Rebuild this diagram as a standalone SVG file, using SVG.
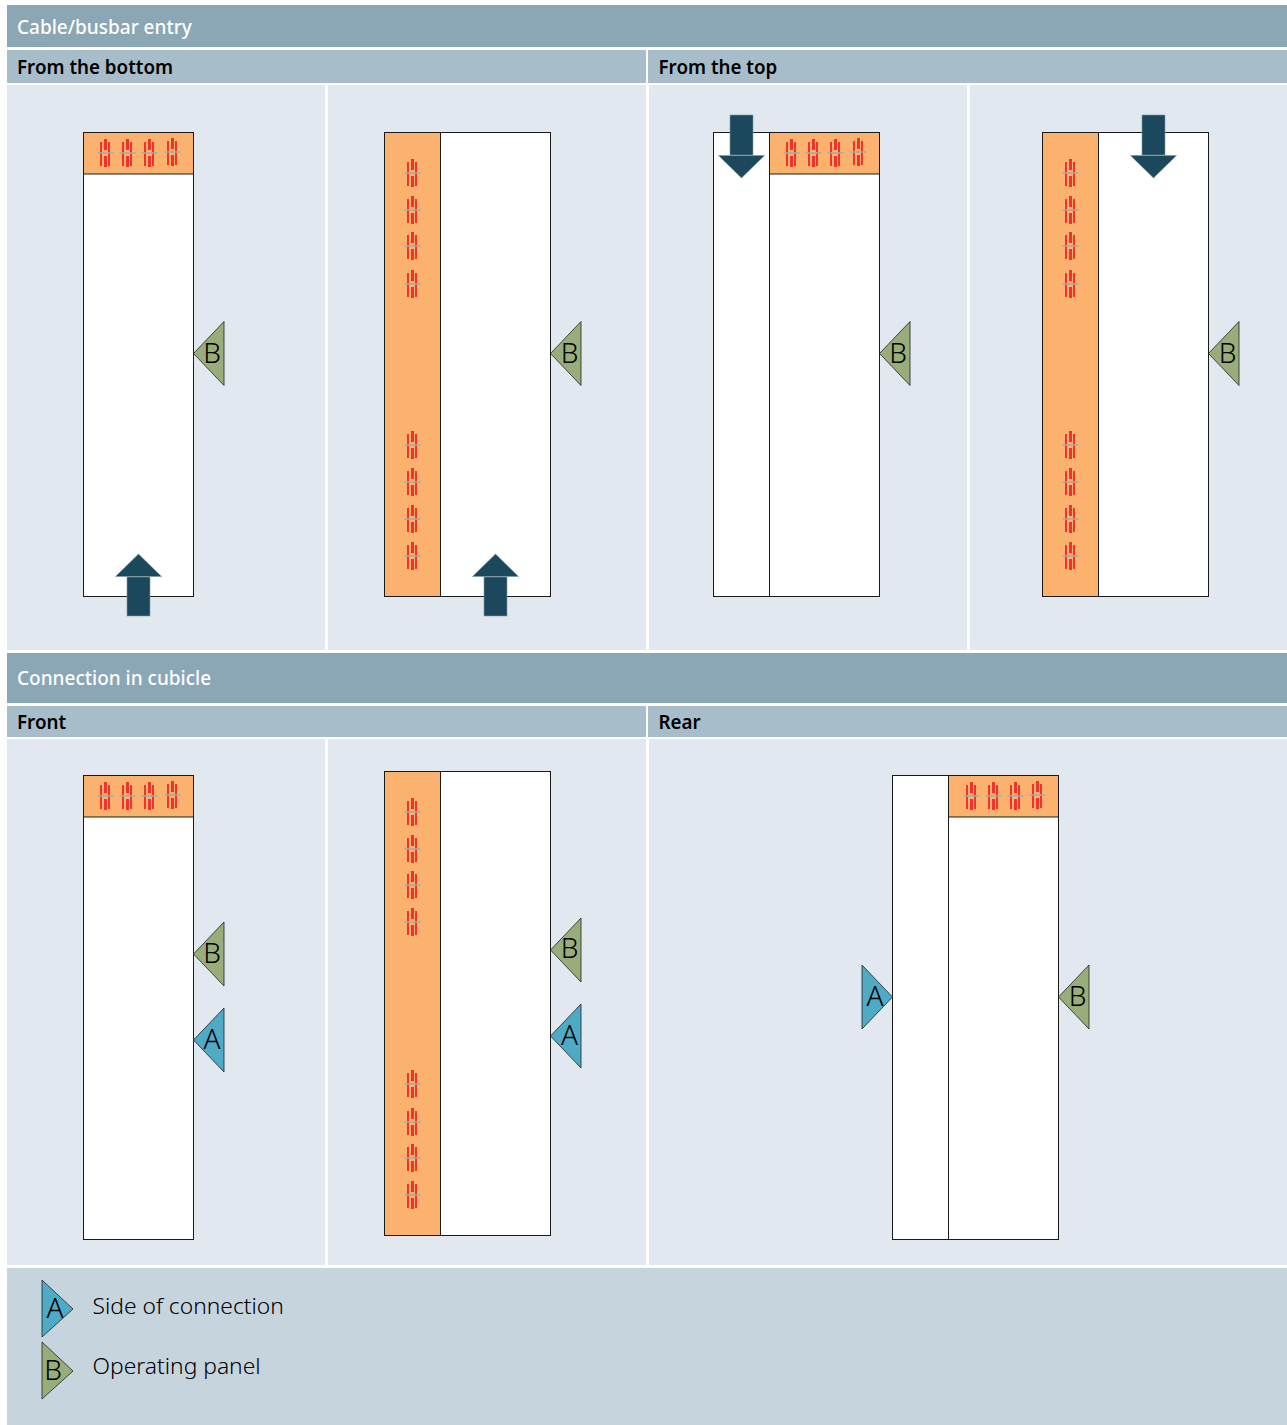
<svg xmlns="http://www.w3.org/2000/svg" width="1287" height="1425" viewBox="0 0 1287 1425">
<style>
text{font-family:"Noto Sans","Open Sans","Liberation Sans",sans-serif}
.h{fill:#8ba6b4}.s{fill:#a8bdca}.p{fill:#e1e8ef}.l{fill:#c6d4de}
.ht{fill:#fff;font-size:19px;font-weight:500}
.st{fill:#000;font-size:18.8px;font-weight:600}
.lt{fill:#000;font-size:22.8px;font-weight:350}
.box{fill:#fff;stroke:#1a1a1a;stroke-width:1}
.or{fill:#fcb26f;stroke:#1a1a1a;stroke-width:1}
.tb{fill:#98ad7a;stroke:#222;stroke-width:.8}
.ta{fill:#4fabc5;stroke:#222;stroke-width:.8}
.tl{fill:#000;font-size:28px;font-weight:350;text-anchor:middle}
.ar{fill:#1b485c;stroke:#7f9aa6;stroke-width:.6}
.r{fill:#f0332c}.g{fill:#aaa9a4}
</style>
<defs>
<g id="bb">
<rect class="r" x="-5" y="-11" width="2" height="24"/>
<rect class="r" x="3" y="-11" width="2" height="24"/>
<rect class="r" x="-1" y="-14" width="3" height="11"/><rect class="r" x="-1" y="3" width="3" height="11"/>
<rect class="g" x="-7.5" y="-.8" width="16" height="1.6"/>
</g>
<polygon id="ltri" points="0,0 30.5,-32 30.5,32"/>
<polygon id="rtri" points="0,-29 31,0 0,28"/>
<g id="up"><rect x="-11.5" y="23" width="23" height="39"/><polygon points="0,0 23,22.5 -23,22.5"/></g>
<g id="dn"><rect x="-11.5" y="0" width="23" height="40"/><polygon points="0,63 23,40.5 -23,40.5"/></g>
</defs>
<rect width="1287" height="1425" fill="#fff"/>
<g id="header-entry"><rect class="h" x="7" y="5" width="1280" height="42"/><text class="ht" x="17" y="34">Cable/busbar entry</text></g>
<g id="sub-bottom"><rect class="s" x="7" y="50" width="639" height="33"/><text class="st" x="17" y="74">From the bottom</text></g>
<g id="sub-top"><rect class="s" x="648" y="50" width="639" height="33"/><text class="st" x="658.5" y="74">From the top</text></g>
<g id="panels-entry">
<rect class="p" x="7" y="85" width="318" height="565"/><rect class="p" x="328" y="85" width="318" height="565"/>
<rect class="p" x="649" y="85" width="318" height="565"/><rect class="p" x="970" y="85" width="317" height="565"/>
</g>
<g id="header-conn"><rect class="h" x="7" y="653" width="1280" height="50"/><text class="ht" x="17" y="685">Connection in cubicle</text></g>
<g id="sub-front"><rect class="s" x="7" y="706" width="639" height="31"/><text class="st" x="17" y="729">Front</text></g>
<g id="sub-rear"><rect class="s" x="648" y="706" width="639" height="31"/><text class="st" x="658.5" y="729">Rear</text></g>
<g id="panels-conn">
<rect class="p" x="7" y="739" width="318" height="526"/><rect class="p" x="328" y="739" width="318" height="526"/>
<rect class="p" x="649" y="739" width="638" height="526"/>
</g>
<g id="legend-bg"><rect class="l" x="7" y="1268" width="1280" height="157"/></g>

<g id="cab1">
<rect class="box" x="83.5" y="132.5" width="110" height="464"/><rect class="or" x="83.5" y="132.5" width="110" height="41.5"/>
<use href="#bb" x="105" y="153"/><use href="#bb" x="127" y="153"/><use href="#bb" x="149" y="153"/><use href="#bb" x="172" y="152"/>
<use href="#ltri" class="tb" x="193.5" y="353.5"/><text class="tl" x="212" y="363">B</text>
</g>
<g id="cab2">
<rect class="box" x="384.5" y="132.5" width="166" height="464"/><rect class="or" x="384.5" y="132.5" width="56" height="464"/>
<use href="#bb" x="412" y="173"/><use href="#bb" x="412" y="210"/><use href="#bb" x="412" y="246"/><use href="#bb" x="412" y="284"/>
<use href="#bb" x="412" y="445"/><use href="#bb" x="412" y="482"/><use href="#bb" x="412" y="519"/><use href="#bb" x="412" y="556"/>
<use href="#ltri" class="tb" x="550.5" y="353.5"/><text class="tl" x="569.5" y="363">B</text>
</g>
<g id="cab3">
<rect class="box" x="713.5" y="132.5" width="166" height="464"/><rect class="or" x="769.5" y="132.5" width="110" height="41.5"/>
<line x1="769.5" y1="174" x2="769.5" y2="596.5" stroke="#1a1a1a"/>
<use href="#bb" x="791" y="153"/><use href="#bb" x="813" y="153"/><use href="#bb" x="835" y="153"/><use href="#bb" x="858" y="152"/>
<use href="#ltri" class="tb" x="879.5" y="353.5"/><text class="tl" x="898" y="363">B</text>
</g>
<g id="cab4">
<rect class="box" x="1042.5" y="132.5" width="166" height="464"/><rect class="or" x="1042.5" y="132.5" width="56" height="464"/>
<use href="#bb" x="1070" y="173"/><use href="#bb" x="1070" y="210"/><use href="#bb" x="1070" y="246"/><use href="#bb" x="1070" y="284"/>
<use href="#bb" x="1070" y="445"/><use href="#bb" x="1070" y="482"/><use href="#bb" x="1070" y="519"/><use href="#bb" x="1070" y="556"/>
<use href="#ltri" class="tb" x="1208.5" y="353.5"/><text class="tl" x="1227.5" y="363">B</text>
</g>
<g id="cab5">
<rect class="box" x="83.5" y="775.5" width="110" height="464"/><rect class="or" x="83.5" y="775.5" width="110" height="41.5"/>
<use href="#bb" x="105" y="796"/><use href="#bb" x="127" y="796"/><use href="#bb" x="149" y="796"/><use href="#bb" x="172" y="795"/>
<use href="#ltri" class="tb" x="193.5" y="954"/><text class="tl" x="212" y="963">B</text>
<use href="#ltri" class="ta" x="193.5" y="1040"/><text class="tl" x="212" y="1049">A</text>
</g>
<g id="cab6">
<rect class="box" x="384.5" y="771.5" width="166" height="464"/><rect class="or" x="384.5" y="771.5" width="56" height="464"/>
<use href="#bb" x="412" y="812"/><use href="#bb" x="412" y="849"/><use href="#bb" x="412" y="885"/><use href="#bb" x="412" y="922"/>
<use href="#bb" x="412" y="1084"/><use href="#bb" x="412" y="1122"/><use href="#bb" x="412" y="1158"/><use href="#bb" x="412" y="1195"/>
<use href="#ltri" class="tb" x="550.5" y="950"/><text class="tl" x="569.5" y="958">B</text>
<use href="#ltri" class="ta" x="550.5" y="1036"/><text class="tl" x="569.5" y="1045">A</text>
</g>
<g id="cab7">
<rect class="box" x="892.5" y="775.5" width="166" height="464"/><rect class="or" x="948.5" y="775.5" width="110" height="41.5"/>
<line x1="948.5" y1="817" x2="948.5" y2="1239.5" stroke="#1a1a1a"/>
<use href="#bb" x="971" y="796"/><use href="#bb" x="993" y="796"/><use href="#bb" x="1015" y="796"/><use href="#bb" x="1037" y="795"/>
<use href="#ltri" class="tb" x="1058.5" y="997"/><text class="tl" x="1077.5" y="1006">B</text>
<use href="#ltri" class="ta" transform="translate(892.5,997) scale(-1,1)"/><text class="tl" x="875" y="1006">A</text>
</g>
<g id="connectors">
<use href="#up" class="ar" x="138.5" y="554"/><use href="#up" class="ar" x="495.5" y="554"/>
<use href="#dn" class="ar" x="741.5" y="115"/><use href="#dn" class="ar" x="1153.5" y="115"/>
</g>
<g id="legend-a"><use href="#rtri" class="ta" x="42" y="1309"/><text class="tl" x="55" y="1318">A</text><text class="lt" x="92.5" y="1314">Side of connection</text></g>
<g id="legend-b"><use href="#rtri" class="tb" x="42" y="1371"/><text class="tl" x="53" y="1380">B</text><text class="lt" x="92.5" y="1374">Operating panel</text></g>
</svg>
